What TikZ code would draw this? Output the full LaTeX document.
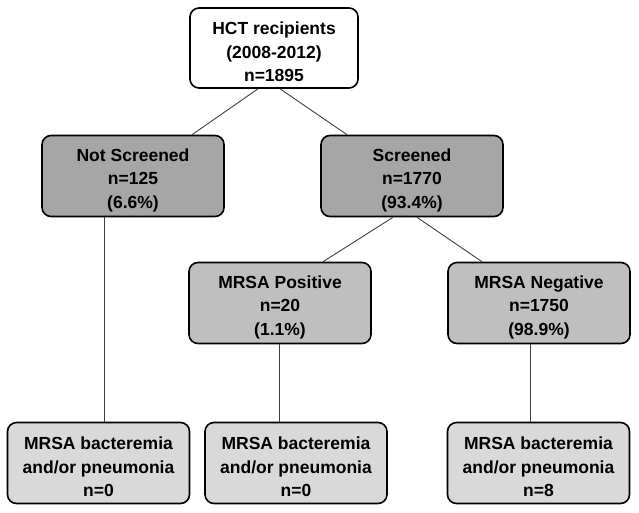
\documentclass[tikz,border=0pt]{standalone}
\usepackage{fontspec}
\setmainfont{Liberation Sans}
\usepackage{tikz}
\usetikzlibrary{calc, positioning}
\usepackage{xcolor}
\definecolor{grayDark}{HTML}{A6A6A6}
\definecolor{grayMid}{HTML}{BFBFBF}
\definecolor{grayLight}{HTML}{D9D9D9}

\begin{document}
\begin{tikzpicture}[x=1pt, y=-1pt,
    font=\fontsize{17.5}{23.5}\selectfont\bfseries,
    blk/.style={draw, line width=1.6pt, rounded corners=9pt, minimum width=182pt, minimum height=81pt, align=center, inner sep=0pt,
      execute at begin node={\rule{0pt}{68pt}}},
    conn/.style={draw=black!75, line width=0.9pt}]
    \useasboundingbox (0,0) rectangle (639,513);
    \node[blk, fill=white, minimum width=168pt, minimum height=80pt] (hct) at (274,48) {HCT recipients\\(2008-2012)\\n=1895};
    \node[blk, fill=grayDark]  (ns)  at (133,176) {Not Screened\\n=125\\(6.6\%)};
    \node[blk, fill=grayDark]  (scr) at (412,176) {Screened\\n=1770\\(93.4\%)};
    \node[blk, fill=grayMid]   (pos) at (280,303) {MRSA Positive\\n=20\\(1.1\%)};
    \node[blk, fill=grayMid]   (neg) at (539,303) {MRSA Negative\\n=1750\\(98.9\%)};
    \node[blk, fill=grayLight] (bns)  at (98.5,463) {MRSA bacteremia\\and/or pneumonia\\n=0};
    \node[blk, fill=grayLight] (bpos) at (296,463)  {MRSA bacteremia\\and/or pneumonia\\n=0};
    \node[blk, fill=grayLight] (bneg) at (538.5,463) {MRSA bacteremia\\and/or pneumonia\\n=8};
    \draw[conn] ([xshift=-16pt]hct.south) -- ([xshift=59pt]ns.north);
    \draw[conn] ([xshift=6pt]hct.south) -- ([xshift=-65pt]scr.north);
    \draw[conn] ([xshift=-19pt]scr.south) -- ([xshift=43pt]pos.north);
    \draw[conn] ([xshift=5pt]scr.south) -- ([xshift=-57pt]neg.north);
    \draw[conn] ([xshift=-29pt]ns.south) -- ([xshift=-29pt]ns.south |- bns.north);
    \draw[conn] ([xshift=-1pt]pos.south) -- ([xshift=-1pt]pos.south |- bpos.north);
    \draw[conn] ([xshift=-9pt]neg.south) -- ([xshift=-9pt]neg.south |- bneg.north);
  \end{tikzpicture}
\end{document}
